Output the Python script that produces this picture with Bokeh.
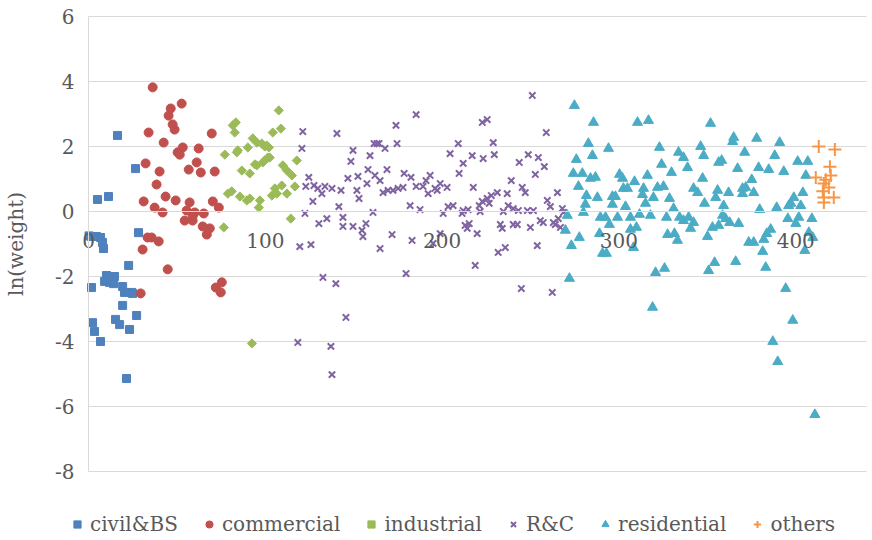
import numpy as np
from bokeh.plotting import figure
from bokeh.models import Legend, LegendItem, FixedTicker, Range1d
from bokeh.embed import file_html
from bokeh.resources import INLINE

# ln(weight) by record index, grouped by building type
civil_x = [0.3, 1.7, 4.5, 6.8, 7.9, 8.5, 5.1, 11.3, 16.4, 26.6, 28.3, 22.7, 10.2, 13.0, 14.7, 9.1,
           11.9, 14.2, 1.7, 19.3, 24.4, 20.4, 24.9, 19.3, 27.2, 2.3, 3.4, 6.8, 15.3, 17.6, 23.2, 21.5]
civil_y = [-0.75, -0.77, -0.77, -0.8, -0.95, -1.14, 0.37, 0.46, 2.34, 1.32, -0.65, -1.66, -1.97, -2.03,
           -2.0, -2.15, -2.18, -2.22, -2.34, -2.31, -2.49, -2.49, -2.52, -2.89, -3.2, -3.42, -3.69, -4.0,
           -3.32, -3.48, -3.63, -5.14]

commercial_x = [36.3, 52.7, 46.5, 45.3, 47.6, 48.7, 34.0, 69.7, 42.5, 53.3, 50.4, 51.6, 62.3, 32.3, 61.2,
                40.2, 56.7, 63.5, 71.4, 38.5, 43.6, 31.2, 49.3, 57.2, 70.3, 73.7, 37.4, 41.9, 55.5, 60.1,
                65.2, 58.9, 54.4, 58.9, 64.6, 68.6, 66.9, 33.4, 35.7, 39.7, 30.6, 44.8, 75.4, 72.0, 74.8, 29.5]
commercial_y = [3.82, 3.32, 3.17, 2.95, 2.68, 2.52, 2.43, 2.4, 2.12, 1.97, 1.82, 1.75, 1.94, 1.48, 1.51,
                1.23, 1.29, 1.2, 1.23, 0.83, 0.46, 0.31, 0.34, 0.28, 0.31, 0.12, 0.12, -0.03, 0.03, -0.03,
                -0.06, -0.15, -0.28, -0.28, -0.46, -0.52, -0.71, -0.8, -0.8, -0.92, -1.17, -1.78, -2.18,
                -2.34, -2.49, -2.52]

industrial_x = [76.5, 77.1, 78.8, 81.0, 81.6, 83.3, 82.7, 83.9, 84.4, 85.6, 86.7, 89.5, 90.1, 91.2, 91.2,
                92.9, 92.4, 94.1, 95.2, 95.2, 96.3, 96.9, 98.0, 98.6, 99.7, 99.7, 100.8, 101.4, 102.0,
                102.5, 103.7, 104.2, 105.4, 106.5, 107.6, 108.8, 109.3, 109.9, 112.2, 112.2, 114.4,
                115.0, 116.7, 117.8]
industrial_y = [-0.49, 1.75, 0.55, 0.62, 2.65, 2.74, 2.43, 1.82, 1.88, 0.46, 1.26, 0.34, 1.97, 1.17, 0.4,
                2.25, -4.06, 1.45, 2.12, 1.42, 0.12, 0.34, 2.09, 1.51, 2.0, 1.57, 2.03, 1.66, 1.97, 1.66,
                0.49, 2.43, 0.71, 0.55, 3.11, 2.55, 0.8, 1.42, 1.26, 0.55, -0.22, 1.11, 0.77, 1.57]

rc_x = [118.4, 119.5, 120.7, 121.2, 122.4, 122.9, 124.6, 125.8, 126.9, 127.5, 129.7, 130.3, 132.0, 132.6,
        133.7, 134.8, 137.1, 137.7, 137.7, 139.9, 140.5, 141.6, 142.8, 143.9, 143.9, 145.6, 146.7, 148.4,
        149.6, 149.6, 151.8, 152.4, 153.0, 154.7, 155.2, 156.9, 157.5, 158.1, 159.2, 160.9, 161.5, 163.2,
        164.3, 162.0, 164.9, 164.9, 166.6, 167.7, 168.8, 169.4, 171.7, 172.2, 173.9, 174.5, 175.1, 177.9,
        178.5, 179.6, 181.9, 182.4, 183.0, 185.3, 185.3, 187.5, 189.2, 190.9, 192.1, 193.2, 196.0, 198.9,
        197.2, 202.8, 200.6, 203.4, 206.2, 198.9, 194.9, 204.5, 209.1, 209.6, 211.9, 211.9, 214.7, 211.3,
        213.0, 215.3, 214.2, 217.0, 217.6, 218.7, 219.8, 221.0, 221.5, 222.7, 225.5, 222.7, 223.2, 225.5,
        226.6, 227.8, 228.9, 229.5, 231.2, 231.7, 232.9, 234.0, 234.6, 235.7, 236.8, 237.4, 239.1, 240.2,
        240.2, 242.5, 243.1, 243.6, 244.8, 245.3, 247.0, 248.2, 248.7, 249.9, 251.0, 251.6, 252.7, 253.8,
        254.4, 255.5, 257.2, 257.8, 258.9, 259.5, 261.2, 262.3, 262.9, 264.0, 265.2, 265.7, 266.9, 268.0,
        268.6]
rc_y = [-4.03, -1.08, 1.94, 2.46, -0.06, 0.77, 1.05, -1.02, 0.31, 0.8, 0.71, -0.37, 0.55, -2.03, 0.77,
        -0.22, -4.15, 0.71, -5.02, -2.22, 2.4, 0.15, 0.65, -0.18, -0.46, -3.26, 1.02, 1.54, 1.88, -0.46,
        0.65, 1.08, 0.4, -0.58, -0.77, -0.37, 0.86, 1.29, 1.72, -0.03, 2.09, 2.09, 2.09, 1.11, 0.95, -1.14,
        0.58, 1.94, 1.29, 0.65, -0.71, 0.65, 2.65, 2.09, 0.71, 0.74, 1.17, -1.91, 0.18, 1.05, -0.89, 2.98,
        0.77, 0.06, 0.77, 0.95, 0.55, 1.11, 0.71, 0.86, 0.65, 0.74, -0.06, 0.15, 0.18, -0.68, -0.98, 1.78,
        2.09, 1.17, 1.48, 0.03, 0.06, -0.06, -0.43, -0.37, -0.52, 1.72, 0.74, -1.66, -0.68, 0.18, 0.0, 2.74,
        2.83, 0.31, 1.63, 0.4, 0.25, 0.49, 2.12, 1.75, 0.58, -1.26, -0.4, -0.52, 0.0, -1.11, 0.55, 0.18,
        0.95, 0.09, -0.4, -0.4, 0.03, 1.51, -2.37, 0.74, 0.58, 0.03, 1.75, -0.49, 3.57, 0.03, 1.14, -1.05,
        1.66, -0.28, -0.34, 1.38, 2.43, 0.34, 0.15, -2.49, -0.34, -0.4, 0.58, -0.22, -0.49, 0.09, -0.03]

residential_x = [274.8, 285.6, 310.5, 316.7, 351.8, 282.7, 294.1, 285.0, 275.9, 322.9, 333.7, 336.5, 346.2,
                 347.9, 356.4, 324.1, 338.8, 329.7, 274.2, 279.3, 283.9, 286.7, 300.3, 302.0, 308.8, 316.1,
                 277.1, 302.5, 304.8, 313.9, 321.8, 325.2, 347.3, 342.2, 344.5, 355.8, 281.6, 287.8, 296.3,
                 298.0, 313.3, 319.5, 328.6, 281.0, 296.3, 303.7, 315.0, 330.9, 348.4, 354.7, 270.8, 279.9,
                 289.5, 292.4, 299.2, 306.5, 311.6, 317.8, 326.9, 334.3, 336.5, 339.4, 342.2, 269.7, 294.6,
                 309.9, 352.9, 277.6, 289.0, 306.5, 327.5, 331.4, 340.5, 350.1, 333.1, 273.1, 290.7, 292.9,
                 308.2, 320.7, 325.8, 354.1, 350.7, 272.0, 319.0, 364.9, 364.3, 377.9, 390.9, 371.1, 388.1,
                 358.1, 401.1, 406.8, 367.1, 379.0, 384.7, 393.2, 405.7, 375.1, 362.0, 369.9, 371.7, 369.9,
                 376.2, 398.9, 397.2, 396.0, 404.0, 402.8, 379.6, 389.2, 359.2, 358.6, 360.3, 362.6, 367.7,
                 356.4, 395.5, 401.7, 400.0, 409.1, 407.4, 409.6, 385.8, 383.6, 381.9, 373.4, 376.2, 381.3,
                 405.1, 366.0, 383.0, 394.3, 398.3, 387.0, 389.8, 410.8]
residential_y = [3.26, 2.74, 2.74, 2.8, 2.71, 2.09, 1.94, 1.72, 1.6, 1.97, 1.82, 1.66, 2.0, 1.72, 1.51, 1.45,
                 1.35, 1.2, 1.17, 1.17, 1.02, 1.05, 1.14, 1.02, 0.92, 1.11, 0.77, 0.71, 0.71, 0.71, 0.74,
                 0.77, 1.02, 0.71, 0.58, 0.65, 0.49, 0.43, 0.46, 0.46, 0.52, 0.43, 0.4, 0.22, 0.22, 0.15,
                 0.25, 0.09, 0.25, 0.43, -0.12, -0.03, -0.18, -0.18, -0.18, -0.18, -0.09, -0.12, -0.18,
                 -0.18, -0.28, -0.18, -0.34, -0.58, -0.4, -0.49, -0.49, -0.8, -0.68, -0.55, -0.71, -0.68,
                 -0.52, -0.77, -0.89, -1.05, -1.29, -1.29, -1.11, -1.88, -1.75, -1.57, -1.82, -2.06, -2.95,
                 2.28, 2.15, 2.25, 2.12, 1.82, 1.72, 1.57, 1.54, 1.54, 1.32, 1.35, 1.29, 1.23, 1.11, 0.98,
                 0.58, 0.71, 0.74, 0.55, 0.58, 0.43, 0.25, 0.18, 0.58, 0.18, 0.06, 0.12, 0.18, -0.12, -0.22,
                 -0.34, -0.37, -0.43, -0.22, -0.18, -0.37, -0.22, -0.65, -0.8, -0.55, -0.68, -0.86, -0.95,
                 -0.95, -1.23, -1.2, -1.54, -1.72, -2.37, -3.35, -4.0, -4.62, -6.25]

others_x = [413.0, 422.1, 419.3, 419.8, 411.3, 417.0, 415.9, 418.7, 415.3, 421.5, 415.9, 415.9]
others_y = [2.0, 1.91, 1.38, 1.11, 1.05, 0.98, 0.86, 0.74, 0.62, 0.43, 0.43, 0.28]

x_ticks = [0, 100, 200, 300, 400]
y_ticks = [-8, -6, -4, -2, 0, 2, 4, 6]
X_MIN, X_MAX = 0, 440
Y_MIN, Y_MAX = -8, 6

FONT = "DejaVu Serif"
GREY_TEXT = "#595959"
GRID = "#d9d9d9"

# marker style per series
STYLES = [
    ("civil&BS", dict(marker="square", size=8, color="#4F81BD")),
    ("commercial", dict(marker="circle", size=9, color="#C0504D")),
    ("industrial", dict(marker="square", size=6.5, angle=np.pi / 4, color="#9BBB59")),
    ("R&C", dict(marker="x", size=9, line_color="#8064A2", line_width=2)),
    ("residential", dict(marker="triangle", size=10, color="#4BACC6")),
    ("others", dict(marker="cross", size=13, line_color="#F79646", line_width=2)),
]
SERIES = [(civil_x, civil_y), (commercial_x, commercial_y), (industrial_x, industrial_y),
          (rc_x, rc_y), (residential_x, residential_y), (others_x, others_y)]

# The frame fills the whole canvas; the chart area is 88..866 px across and 16..471 px down,
# leaving room on the left for the value axis and at the bottom for the legend row.
W, H = 872, 540
LEFT, RIGHT, TOP, BOTTOM = 88, 866, 16, 471
sx = (RIGHT - LEFT) / (X_MAX - X_MIN)
sy = (BOTTOM - TOP) / (Y_MAX - Y_MIN)
x_range = Range1d(X_MIN - LEFT / sx, X_MAX + (W - RIGHT) / sx)
y_range = Range1d(Y_MIN - (H - BOTTOM) / sy, Y_MAX + TOP / sy)

p = figure(width=W, height=H, output_backend="svg", toolbar_location=None,
           x_range=x_range, y_range=y_range,
           min_border_left=0, min_border_right=0, min_border_top=0, min_border_bottom=0)
p.outline_line_color = None
p.background_fill_color = "white"

# horizontal axis crosses at y = 0, vertical axis sits at x = 0
xa = p.xaxis[0]
xa.fixed_location = 0
xa.bounds = (X_MIN, X_MAX)
xa.ticker = FixedTicker(ticks=x_ticks)
ya = p.yaxis[0]
ya.fixed_location = X_MIN
ya.bounds = (Y_MIN, Y_MAX)
ya.ticker = FixedTicker(ticks=y_ticks)
ya.major_label_overrides = {t: str(t) for t in y_ticks}
ya.axis_label = "ln(weight)"
ya.axis_label_text_font = FONT
ya.axis_label_text_font_size = "20px"
ya.axis_label_text_font_style = "normal"
ya.axis_label_text_color = GREY_TEXT
ya.axis_label_standoff = 24
for ax in (xa, ya):
    ax.axis_line_color = GRID
    ax.axis_line_width = 1
    ax.major_tick_in = 0
    ax.major_tick_out = 0
    ax.minor_tick_in = 0
    ax.minor_tick_out = 0
    ax.major_label_text_font = FONT
    ax.major_label_text_font_size = "20px"
    ax.major_label_text_color = GREY_TEXT
xa.major_label_standoff = 21
ya.major_label_standoff = 14

p.xgrid.visible = False
p.ygrid.ticker = FixedTicker(ticks=y_ticks)
p.ygrid.bounds = (Y_MIN, Y_MAX)
p.ygrid.cross_bounds = (X_MIN, X_MAX)
p.ygrid.grid_line_color = GRID
p.ygrid.grid_line_width = 1

items = []
for (name, style), (xs, ys) in zip(STYLES, SERIES):
    r = p.scatter(xs, ys, **style)
    items.append(LegendItem(label=name, renderers=[r]))

# one-row legend under the chart area
legend = Legend(items=items, orientation="horizontal", location=(68, 4))
legend.label_text_font = FONT
legend.label_text_font_size = "20px"
legend.label_text_color = GREY_TEXT
legend.border_line_color = None
legend.background_fill_alpha = 0
legend.glyph_width = 18
legend.glyph_height = 18
legend.label_standoff = 4
legend.spacing = 22
legend.padding = 0
legend.margin = 0
p.add_layout(legend, "center")

open("out.html", "w").write(file_html(p, INLINE))
